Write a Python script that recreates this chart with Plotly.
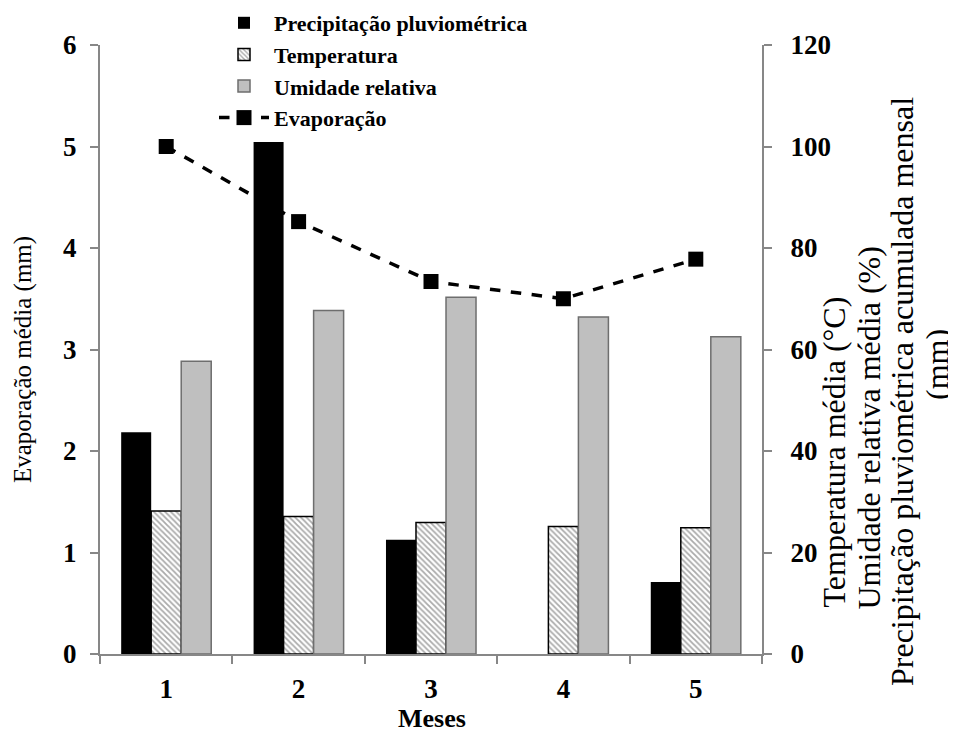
import plotly.graph_objects as go

meses = ["1", "2", "3", "4", "5"]
precipitacao = [43.7, 100.9, 22.5, 0.0, 14.2]
temperatura = [28.2, 27.1, 25.9, 25.1, 24.9]
umidade = [57.7, 67.7, 70.3, 66.4, 62.5]
evaporacao = [5.00, 4.26, 3.67, 3.50, 3.89]

left_ticks = [0, 1, 2, 3, 4, 5, 6]
right_ticks = [0, 20, 40, 60, 80, 100, 120]

FONT = "Liberation Serif"
AXIS_GRAY = "#878787"

# target plot area in screen pixels (page body has an 8px margin)
PL, PR, PT, PB = 100, 762, 45, 654
OFF = 8
W, H = 956, 735
PW, PH = PR - PL, PB - PT


def px(xpix):
    return (xpix - PL) / PW


def py(ypix):
    return (PB - ypix) / PH


fig = go.Figure()
fig.add_trace(go.Bar(
    x=meses, y=precipitacao, name="Precipitação pluviométrica",
    marker=dict(color="black", line=dict(color="black", width=0)),
    yaxis="y2"))
fig.add_trace(go.Bar(
    x=meses, y=temperatura, name="Temperatura",
    marker=dict(color="white", line=dict(color="black", width=1.5),
                pattern=dict(shape="\\", fgcolor="#555555", bgcolor="white",
                             size=4, solidity=0.45)),
    yaxis="y2"))
fig.add_trace(go.Bar(
    x=meses, y=umidade, name="Umidade relativa",
    marker=dict(color="#bfbfbf", line=dict(color="#6e6e6e", width=1.5)),
    yaxis="y2"))
fig.add_trace(go.Scatter(
    x=meses, y=evaporacao, name="Evaporação", mode="lines+markers",
    line=dict(color="black", width=3.5, dash="dash"),
    marker=dict(symbol="square", size=15, color="black"),
    yaxis="y"))

fig.update_layout(
    width=W, height=H,
    margin=dict(l=PL - OFF, r=W - PR + OFF, t=PT - OFF, b=H - PB + OFF,
                autoexpand=False),
    plot_bgcolor="white", paper_bgcolor="white",
    barmode="group", bargap=0.32, bargroupgap=0,
    font=dict(family=FONT, color="black", size=21),
    showlegend=True,
    legend=dict(x=px(214), y=py(2), xanchor="left", yanchor="top",
                bgcolor="rgba(0,0,0,0)", tracegroupgap=0,
                font=dict(family=FONT, size=22, color="black", weight="bold"),
                itemwidth=50, traceorder="normal"),
    xaxis=dict(type="category", tickson="boundaries", ticks="outside",
               ticklen=8, tickcolor=AXIS_GRAY, tickwidth=2,
               showline=True, linecolor=AXIS_GRAY, linewidth=2,
               showgrid=False, zeroline=False,
               tickfont=dict(family=FONT, size=27, weight="bold"),
               ticklabelstandoff=10),
    yaxis=dict(range=[0, 6], tickvals=left_ticks, ticks="outside",
               ticklen=8, tickcolor=AXIS_GRAY, tickwidth=2,
               showline=True, linecolor=AXIS_GRAY, linewidth=2,
               showgrid=False, zeroline=False,
               tickfont=dict(family=FONT, size=27, weight="bold"),
               ticklabelstandoff=8),
    yaxis2=dict(range=[0, 120], tickvals=right_ticks, ticks="outside",
                ticklen=8, tickcolor=AXIS_GRAY, tickwidth=2,
                showline=True, linecolor=AXIS_GRAY, linewidth=2,
                showgrid=False, zeroline=False, overlaying="y", side="right",
                tickfont=dict(family=FONT, size=27, weight="bold"),
                ticklabelstandoff=13),
)

# axis titles
fig.add_annotation(
    text="<b>Meses</b>", xref="paper", yref="paper",
    x=px(432), y=py(718), xanchor="center", yanchor="middle",
    showarrow=False, font=dict(family=FONT, size=26, color="black"))
fig.add_annotation(
    text="Evaporação média (mm)", xref="paper", yref="paper",
    x=px(23), y=py(360), xanchor="center", yanchor="middle",
    textangle=-90, showarrow=False, font=dict(family=FONT, size=25, color="black"))

right_title_lines = [
    ("Temperatura média (°C)", 833, 610, "bottom"),
    ("Umidade relativa média (%)", 868, 612, "bottom"),
    ("Precipitação pluviométrica acumulada mensal", 902, 392, "middle"),
    ("(mm)", 937, 365, "middle"),
]
for txt, xx, yy, ya in right_title_lines:
    fig.add_annotation(
        text=txt, xref="paper", yref="paper", x=px(xx), y=py(yy),
        xanchor="center", yanchor=ya, textangle=-90, showarrow=False,
        font=dict(family=FONT, size=32, color="black"))

fig.write_html("out.html")
